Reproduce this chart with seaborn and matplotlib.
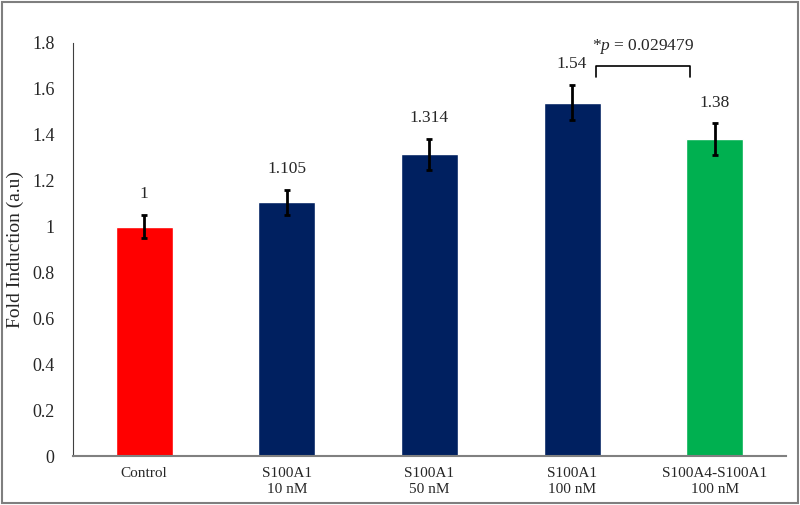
import matplotlib
matplotlib.use("Agg")
import matplotlib.pyplot as plt
import seaborn as sns
import pandas as pd
from matplotlib.patches import Rectangle

# data
categories = ["Control", "S100A1\n10 nM", "S100A1\n50 nM", "S100A1\n100 nM", "S100A4-S100A1\n100 nM"]
values = [1.0, 1.105, 1.314, 1.54, 1.38]
errors = [0.05, 0.056, 0.067, 0.078, 0.07]
value_labels = ["1", "1.105", "1.314", "1.54", "1.38"]
colors = ["#FF0000", "#002060", "#002060", "#002060", "#00B050"]
y_ticks = [0, 0.2, 0.4, 0.6, 0.8, 1.0, 1.2, 1.4, 1.6, 1.8]
y_tick_labels = ["0", "0.2", "0.4", "0.6", "0.8", "1", "1.2", "1.4", "1.6", "1.8"]
p_text = "*$p$ = 0.029479"

sns.set_style("white")
plt.rcParams["font.family"] = ["Liberation Serif", "DejaVu Serif"]
plt.rcParams["mathtext.fontset"] = "custom"
plt.rcParams["mathtext.it"] = "Liberation Serif:italic"
plt.rcParams["mathtext.rm"] = "Liberation Serif"

df = pd.DataFrame({"Group": categories, "Fold": values})

fig = plt.figure(figsize=(8, 5.05), dpi=100)
ax = fig.add_axes([0.091, 0.097, 0.8915, 0.818])

sns.barplot(data=df, x="Group", y="Fold", hue="Group", palette=colors,
            width=0.4, legend=False, saturation=1, ax=ax)
ax.errorbar(range(len(values)), values, yerr=errors, fmt="none",
            ecolor="black", elinewidth=2, capsize=2.5, capthick=2)

# value labels above the error bars
for i, (v, e, lab) in enumerate(zip(values, errors, value_labels)):
    ax.text(i, v + e + 0.09, lab, ha="center", va="center", fontsize=12.5)

# significance bracket between the last two bars
ax.plot([3.17, 3.17, 3.83, 3.83], [1.653, 1.70, 1.70, 1.653], color="black", lw=1.2)
ax.text(3.5, 1.785, p_text, ha="center", va="center", fontsize=12.5)

ax.set_xlim(-0.5, 4.5)
ax.set_ylim(0, 1.8)
ax.set_yticks(y_ticks)
ax.set_yticklabels(y_tick_labels, fontsize=13)
ax.tick_params(axis="y", length=0, pad=13)
ax.tick_params(axis="x", length=0, pad=8, labelsize=11)
for t in ax.get_xticklabels():
    t.set_linespacing(1.3)
ax.set_xlabel("")
ax.set_ylabel("Fold Induction (a.u)", fontsize=14, va="center")
ax.yaxis.set_label_coords(-0.081, 0.5)

for s in ["top", "right"]:
    ax.spines[s].set_visible(False)
ax.spines["left"].set_color("#404040")
ax.spines["left"].set_linewidth(0.8)
ax.spines["bottom"].set_color("#808080")
ax.spines["bottom"].set_linewidth(1.5)

# chart border
fig.patches.append(Rectangle((0.002, 0.003), 0.996, 0.994, transform=fig.transFigure,
                             fill=False, edgecolor="#7f7f7f", lw=1.5))

fig.savefig("out.png", dpi=100)
